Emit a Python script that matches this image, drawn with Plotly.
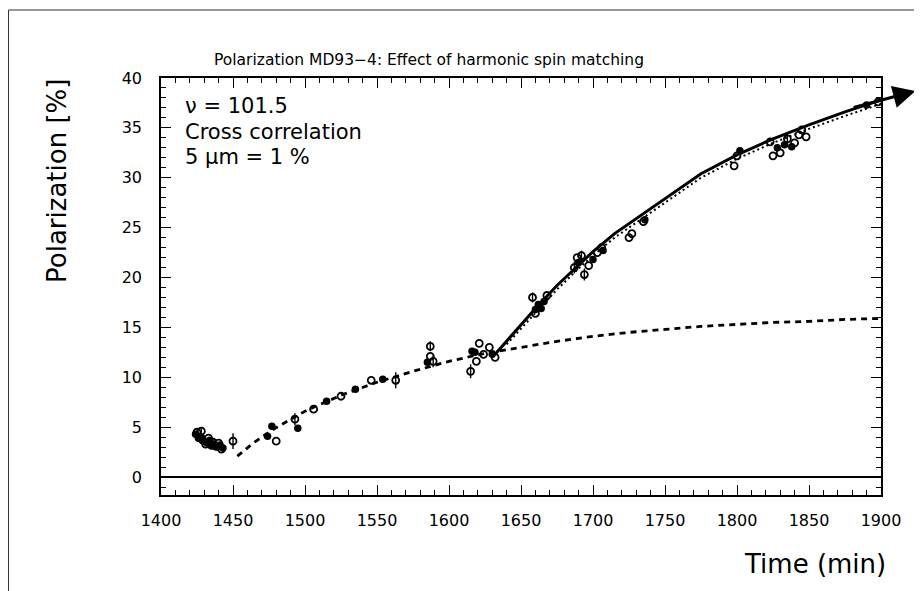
import plotly.graph_objects as go

# ---- data ----
filled_t = [1424, 1426, 1428, 1430, 1432, 1434, 1435, 1437, 1439, 1441, 1443,
            1474, 1477, 1495, 1515, 1535, 1554, 1585, 1616, 1618, 1630,
            1660, 1662, 1664, 1666, 1690, 1700, 1707, 1736, 1802, 1828, 1833, 1838, 1890]
filled_p = [4.3, 3.9, 4.0, 3.6, 3.4, 3.7, 3.1, 3.3, 3.0, 3.2, 2.9,
            4.1, 5.1, 4.9, 7.6, 8.8, 9.8, 11.5, 12.6, 12.5, 12.3,
            16.8, 17.3, 16.9, 17.6, 21.5, 21.8, 22.7, 25.8, 32.7, 33.0, 33.3, 33.1, 37.3]

open_t = [1425, 1428, 1429, 1431, 1433, 1436, 1438, 1440, 1442, 1450, 1480, 1493, 1506,
          1525, 1546, 1563, 1587, 1587, 1589, 1615, 1619, 1621, 1624, 1628, 1632,
          1658, 1660, 1668, 1687, 1689, 1692, 1694, 1697, 1703, 1706, 1725, 1727, 1735,
          1798, 1800, 1823, 1825, 1830, 1835, 1840, 1843, 1845, 1848, 1898]
open_p = [4.5, 4.6, 3.7, 3.3, 3.9, 3.5, 3.1, 3.4, 2.8, 3.6, 3.6, 5.8, 6.8,
          8.1, 9.7, 9.7, 13.1, 12.1, 11.6, 10.6, 11.6, 13.4, 12.3, 13.0, 12.0,
          18.0, 16.4, 18.2, 21.0, 22.0, 22.2, 20.3, 21.2, 22.5, 23.0, 24.0, 24.4, 25.6,
          31.2, 32.2, 33.6, 32.2, 32.5, 33.9, 33.5, 34.3, 34.8, 34.1, 37.6]
open_err = [0.3, 0.3, 0, 0, 0, 0, 0, 0, 0, 0.8, 0, 0.6, 0,
            0, 0, 0.8, 0.5, 0, 0.6, 0.7, 0, 0, 0, 0, 0,
            0.5, 0, 0, 0.6, 0, 0.5, 0.6, 0, 0, 0, 0, 0, 0,
            0, 0, 0, 0, 0, 0.4, 0, 0, 0, 0, 0]

dash_t = [1453, 1465, 1477, 1500, 1525, 1550, 1575, 1600, 1625, 1650, 1675, 1700,
          1725, 1750, 1775, 1800, 1825, 1850, 1875, 1900]
dash_p = [2.1, 3.5, 4.7, 6.6, 8.2, 9.5, 10.6, 11.6, 12.4, 13.0, 13.6, 14.1,
          14.5, 14.8, 15.1, 15.3, 15.5, 15.6, 15.8, 15.9]

solid_t = [1632, 1645, 1660, 1675, 1690, 1700, 1715, 1730, 1750, 1775, 1800, 1825, 1850, 1875, 1900]
solid_p = [12.3, 14.4, 16.9, 19.2, 21.3, 22.6, 24.4, 25.9, 27.9, 30.4, 32.3, 33.9, 35.3, 36.6, 37.8]

dot_t = [1640, 1660, 1675, 1690, 1700, 1715, 1730, 1750, 1775, 1800, 1825, 1850, 1875, 1900]
dot_p = [13.3, 16.5, 18.8, 20.9, 22.2, 24.0, 25.5, 27.5, 30.0, 31.9, 33.5, 34.9, 36.2, 37.4]

arrow_from = (1880, 37.0)
arrow_to = (1924, 38.7)

x_ticks = [1400, 1450, 1500, 1550, 1600, 1650, 1700, 1750, 1800, 1850, 1900]
y_ticks = [0, 5, 10, 15, 20, 25, 30, 35, 40]

FONT = "DejaVu Sans"

fig = go.Figure()
fig.add_trace(go.Scatter(x=dash_t, y=dash_p, mode="lines",
                         line=dict(color="black", width=2.8, dash="6px,5px"),
                         hoverinfo="skip", showlegend=False))
fig.add_trace(go.Scatter(x=dot_t, y=dot_p, mode="lines",
                         line=dict(color="black", width=2, dash="2px,3px"),
                         hoverinfo="skip", showlegend=False))
fig.add_trace(go.Scatter(x=solid_t, y=solid_p, mode="lines",
                         line=dict(color="black", width=3),
                         hoverinfo="skip", showlegend=False))
fig.add_trace(go.Scatter(x=open_t, y=open_p, mode="markers",
                         marker=dict(symbol="circle-open", size=7, color="black",
                                     line=dict(width=1.8, color="black")),
                         error_y=dict(type="data", array=open_err, width=0,
                                      thickness=1.4, color="black"),
                         showlegend=False))
fig.add_trace(go.Scatter(x=filled_t, y=filled_p, mode="markers",
                         marker=dict(symbol="circle", size=7.5, color="black"),
                         showlegend=False))

fig.add_annotation(x=arrow_to[0], y=arrow_to[1], ax=arrow_from[0], ay=arrow_from[1],
                   xref="x", yref="y", axref="x", ayref="y", text="",
                   showarrow=True, arrowhead=2, arrowsize=1.5, arrowwidth=3,
                   arrowcolor="black")

# zero line
fig.add_shape(type="line", xref="paper", yref="y", x0=0, x1=1, y0=0, y1=0,
              line=dict(color="black", width=2))
# outer border (pixel box converted to paper units)
L, R, T, B = 153, 49, 70, 104
PW, PH = 922 - L - R, 591 - T - B
def px(x):
    return (x - L) / PW
def py(y):
    return (591 - B - y) / PH
fig.add_shape(type="rect", xref="paper", yref="paper",
              x0=px(0.5), x1=px(921), y0=py(600), y1=py(2),
              line=dict(color="#333", width=1))

fig.add_annotation(text="Polarization MD93\u22124: Effect of harmonic spin matching",
                   xref="paper", yref="paper", x=px(204), y=py(52),
                   xanchor="left", yanchor="middle", showarrow=False,
                   font=dict(family=FONT, size=15.5, color="black"))
for txt, yy in [("\u03bd = 101.5", 98), ("Cross correlation", 124),
                ("5 \u03bcm = 1 %", 149)]:
    fig.add_annotation(text=txt, xref="paper", yref="paper", x=px(175), y=py(yy),
                       xanchor="left", yanchor="middle", showarrow=False,
                       font=dict(family=FONT, size=21, color="black"))
fig.add_annotation(text="Polarization [%]", xref="paper", yref="paper",
                   x=px(49), y=py(173), textangle=-90, showarrow=False,
                   xanchor="center", yanchor="middle",
                   font=dict(family=FONT, size=26, color="black"))
fig.add_annotation(text="Time (min)", xref="paper", yref="paper",
                   x=px(807), y=py(556), showarrow=False,
                   xanchor="center", yanchor="middle",
                   font=dict(family=FONT, size=26, color="black"))

axis_common = dict(showline=True, linecolor="black", linewidth=1.5, mirror="ticks",
                   ticks="inside", tickcolor="black", tickwidth=1.2, ticklen=10,
                   showgrid=False, zeroline=False,
                   tickfont=dict(family=FONT, size=16, color="black"))
fig.update_xaxes(range=[1400, 1900], tickvals=x_ticks, ticklabelstandoff=10,
                 minor=dict(dtick=10, ticks="inside", ticklen=5, tickcolor="black"),
                 **axis_common)
fig.update_yaxes(range=[-1.8, 40], tickvals=y_ticks, ticklabelstandoff=14,
                 minor=dict(dtick=1, ticks="inside", ticklen=5, tickcolor="black"),
                 **axis_common)

fig.update_layout(width=922, height=591,
                  margin=dict(l=L, r=R, t=T, b=B),
                  paper_bgcolor="white", plot_bgcolor="white",
                  font=dict(family=FONT, color="black"))

fig.write_html("out.html")
